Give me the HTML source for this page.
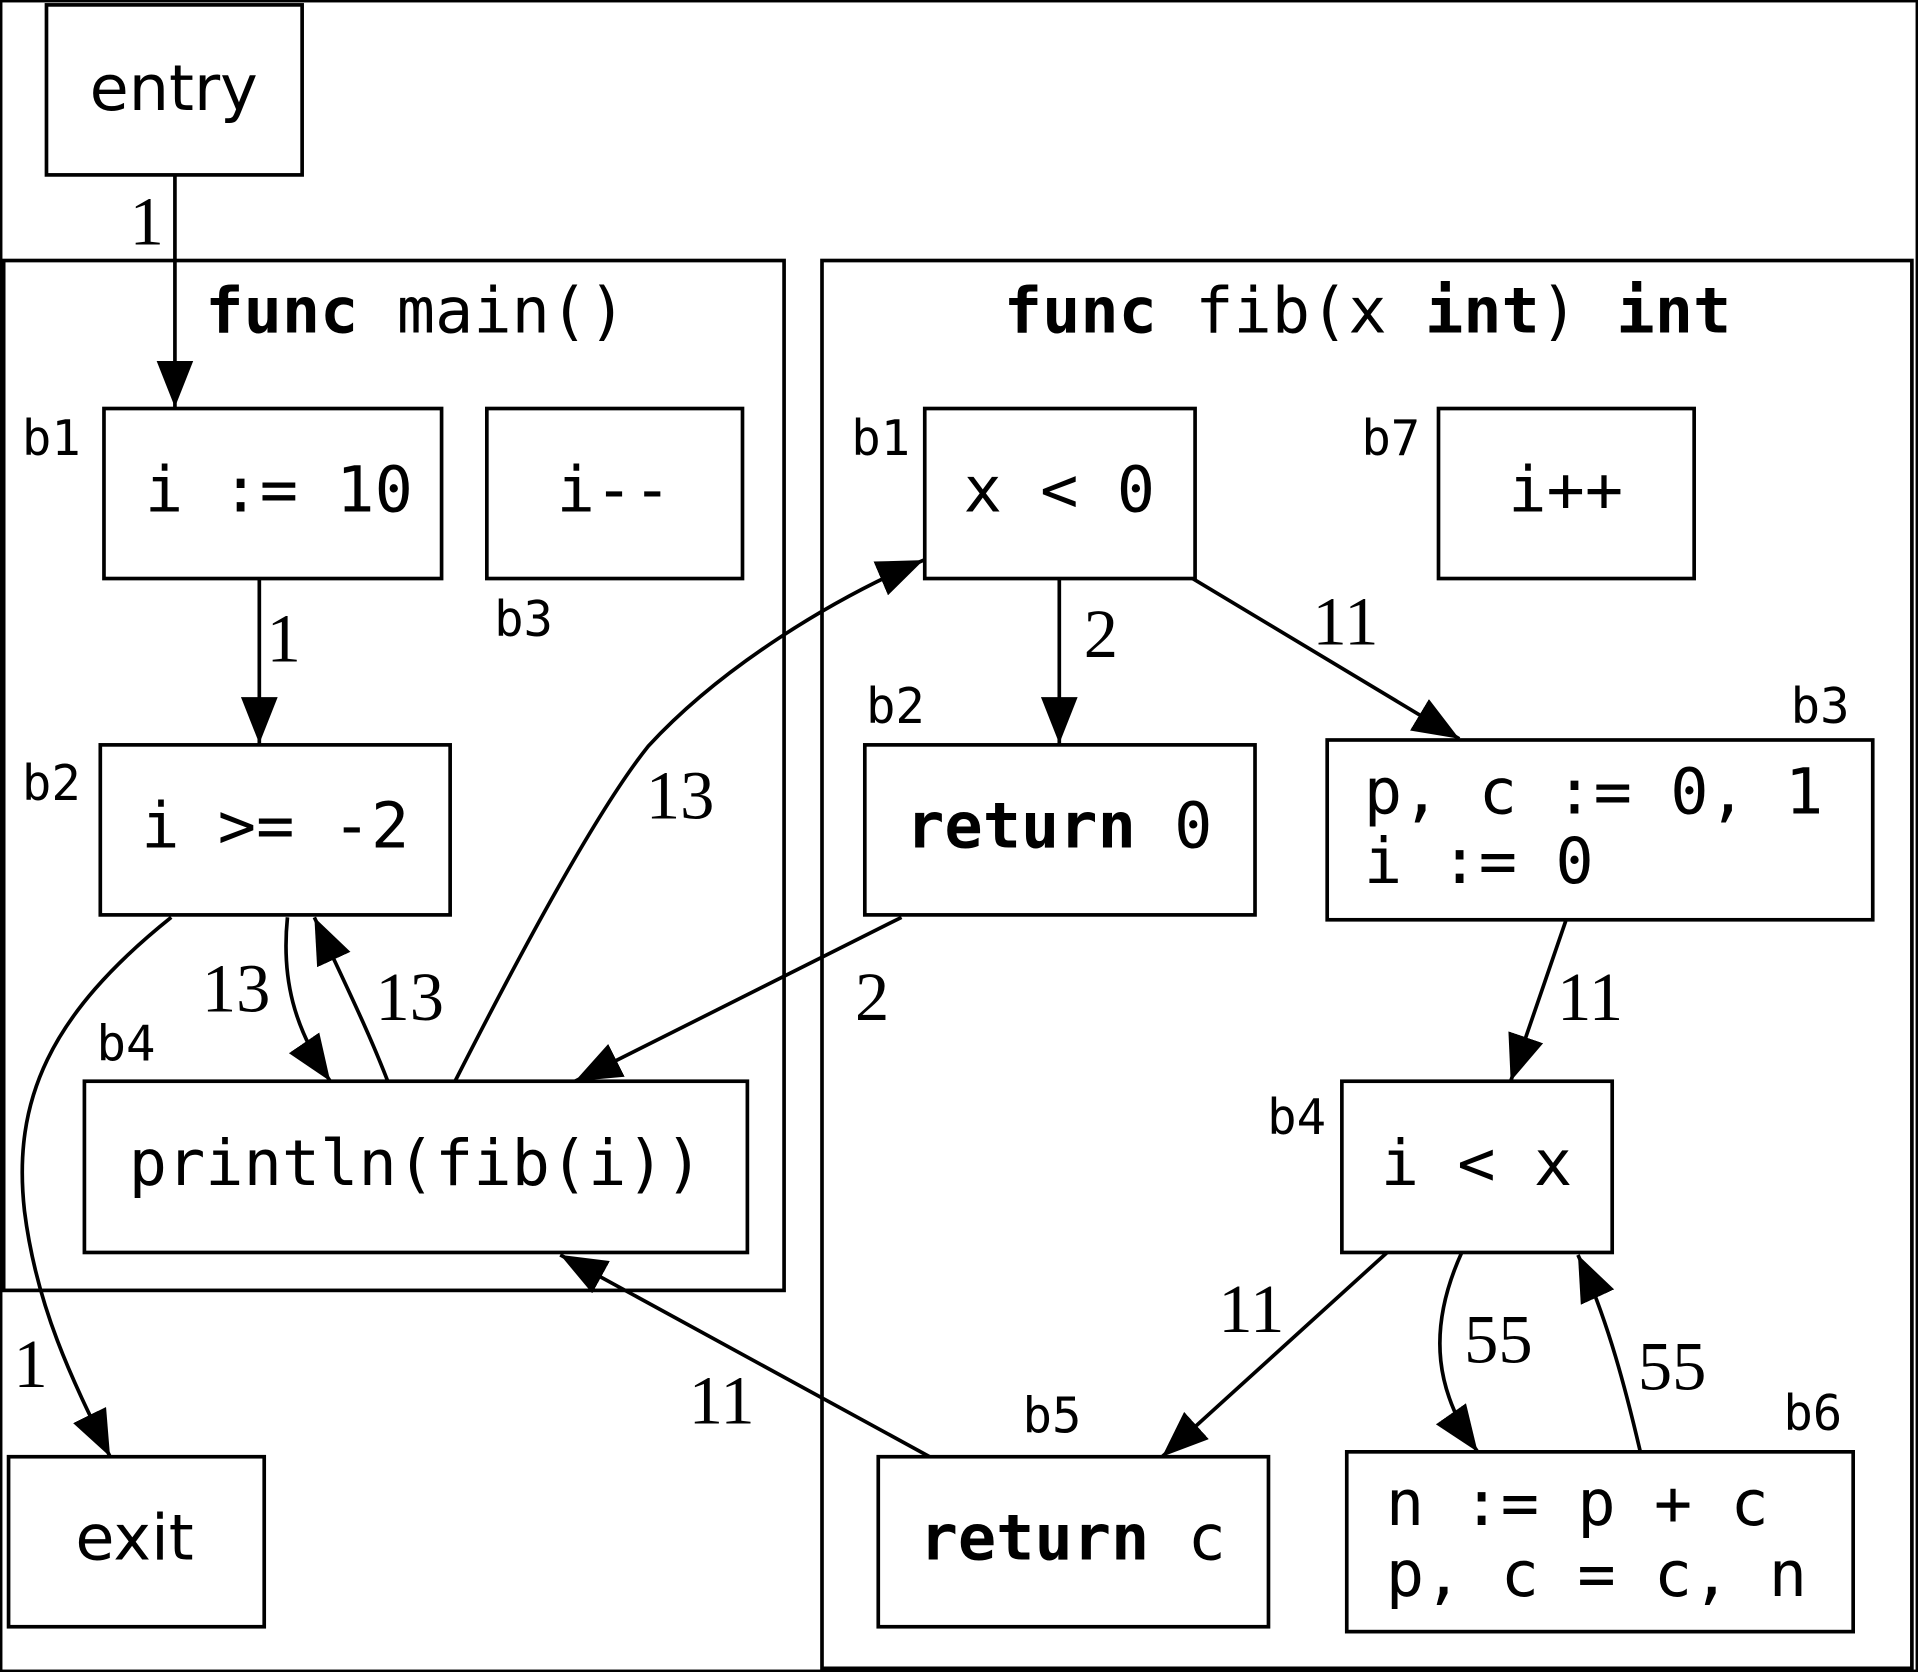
<!DOCTYPE html>
<html><head><meta charset="utf-8"><style>
html,body{margin:0;padding:0;background:#fff}
svg{display:block}
.m{font-family:"DejaVu Sans Mono","Liberation Mono",monospace;font-size:52px}
.l{font-family:"DejaVu Sans Mono","Liberation Mono",monospace;font-size:40px}
.s{font-family:"Liberation Serif",serif;font-size:56px}
.d{font-family:"DejaVu Sans","Liberation Sans",sans-serif;font-size:52px}
.b{font-weight:bold}
</style></head><body>
<svg width="1918" height="1672" viewBox="0 0 1568 1367" preserveAspectRatio="none" xmlns="http://www.w3.org/2000/svg">
<defs><marker id="a" markerUnits="userSpaceOnUse" markerWidth="40" markerHeight="30" refX="38" refY="15" orient="auto"><path d="M0,0 L38,15 L0,30 Z" fill="#000"/></marker></defs>
<rect x="1" y="1" width="1566" height="1365" fill="#fff" stroke="#000" stroke-width="2"/>
<g fill="none" stroke="#000" stroke-width="3">
<rect x="38" y="4" width="209" height="139"/>
<rect x="3" y="213" width="638" height="842"/>
<rect x="672" y="213" width="891" height="1151"/>
<rect x="85" y="334" width="276" height="139"/>
<rect x="398" y="334" width="209" height="139"/>
<rect x="82" y="609" width="286" height="139"/>
<rect x="69" y="884" width="542" height="140"/>
<rect x="7" y="1191" width="209" height="139"/>
<rect x="756" y="334" width="221" height="139"/>
<rect x="1176" y="334" width="209" height="139"/>
<rect x="707" y="609" width="319" height="139"/>
<rect x="1085" y="605" width="446" height="147"/>
<rect x="1097" y="884" width="221" height="140"/>
<rect x="718" y="1191" width="319" height="139"/>
<rect x="1101" y="1187" width="414" height="147"/>
</g>
<g fill="none" stroke="#000" stroke-width="3" marker-end="url(#a)">
<path d="M143,143 L143,333"/>
<path d="M212,473 L212,608"/>
<path d="M235,750 C230,800 240,840 270,884"/>
<path d="M317,884 C300,840 280,800 257,750"/>
<path d="M140,750 C40,830 10,900 20,990 C30,1070 60,1130 90,1191"/>
<path d="M372,884 C430,770 490,660 530,610 C590,545 680,490 755,458"/>
<path d="M866,473 L866,608"/>
<path d="M975,473 L1193,604"/>
<path d="M737,750 L470,884"/>
<path d="M1280,753 L1235,884"/>
<path d="M1134,1024 L950,1191"/>
<path d="M1195,1024 C1165,1090 1175,1140 1208,1187"/>
<path d="M1341,1187 C1330,1140 1315,1080 1290,1026"/>
<path d="M760,1191 L458,1026"/>
</g>
<g class="m" text-anchor="middle">
<text x="340" y="272"><tspan class="b">func</tspan> main()</text>
<text x="1118" y="272"><tspan class="b">func</tspan> fib(x <tspan class="b">int</tspan>) <tspan class="b">int</tspan></text>
<text x="228" y="418">i := 10</text>
<text x="502" y="418">i--</text>
<text x="225" y="693">i &gt;= -2</text>
<text x="340" y="969">println(fib(i))</text>
<text x="866" y="418">x &lt; 0</text>
<text x="1280" y="418">i++</text>
<text x="866" y="693"><tspan class="b">return</tspan> 0</text>
<text x="1207" y="969">i &lt; x</text>
<text x="877" y="1275"><tspan class="b">return</tspan> c</text>
</g>
<g class="m">
<text x="1115" y="665">p, c := 0, 1</text>
<text x="1115" y="722">i := 0</text>
<text x="1133" y="1247">n := p + c</text>
<text x="1133" y="1305">p, c = c, n</text>
</g>
<g class="d" text-anchor="middle">
<text x="142" y="90">entry</text>
<text x="110" y="1275">exit</text>
</g>
<g class="l" text-anchor="middle">
<text x="42" y="372">b1</text>
<text x="428" y="520">b3</text>
<text x="42" y="654">b2</text>
<text x="103" y="867">b4</text>
<text x="720" y="372">b1</text>
<text x="1137" y="372">b7</text>
<text x="732" y="591">b2</text>
<text x="1488" y="591">b3</text>
<text x="1060" y="927">b4</text>
<text x="860" y="1171">b5</text>
<text x="1482" y="1169">b6</text>
</g>
<g class="s" text-anchor="middle">
<text x="120" y="200">1</text>
<text x="232" y="541">1</text>
<text x="193" y="827">13</text>
<text x="335" y="834">13</text>
<text x="25" y="1134">1</text>
<text x="556" y="669">13</text>
<text x="900" y="537">2</text>
<text x="1100" y="527">11</text>
<text x="713" y="834">2</text>
<text x="1300" y="834">11</text>
<text x="1023" y="1089">11</text>
<text x="1225" y="1114">55</text>
<text x="1367" y="1136">55</text>
<text x="590" y="1164">11</text>
</g>
</svg>
</body></html>
